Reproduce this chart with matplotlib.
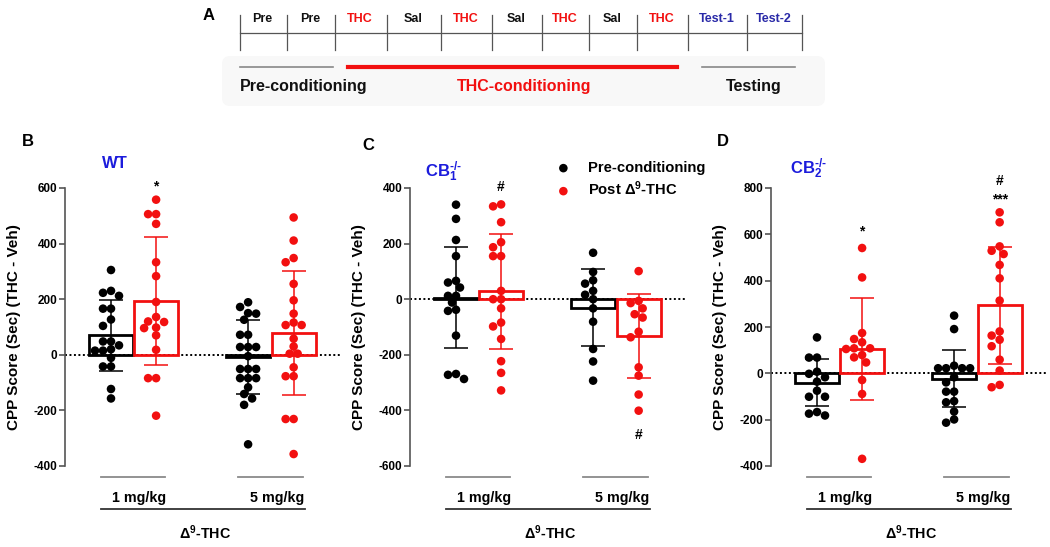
import numpy as np
import matplotlib
matplotlib.use("Agg")
import matplotlib.pyplot as plt
import matplotlib.transforms as mtransforms
from matplotlib.patches import FancyBboxPatch

plt.rcParams['font.family'] = ['Liberation Sans', 'DejaVu Sans']
plt.rcParams['font.weight'] = 'bold'
plt.rcParams['axes.labelweight'] = 'bold'
plt.rcParams['axes.unicode_minus'] = False
plt.rcParams['mathtext.fontset'] = 'custom'
plt.rcParams['mathtext.rm'] = 'Liberation Sans:bold'
plt.rcParams['mathtext.it'] = 'Liberation Sans:bold'
plt.rcParams['mathtext.bf'] = 'Liberation Sans:bold'

# -------------------------------
# DATA
# -------------------------------
# panel A timeline
days = ["Pre", "Pre", "THC", "Sal", "THC", "Sal", "THC", "Sal", "THC", "Test-1", "Test-2"]
day_kind = ["pre", "pre", "thc", "sal", "thc", "sal", "thc", "sal", "thc", "test", "test"]
phases = ["Pre-conditioning", "THC-conditioning", "Testing"]

doses = ["1 mg/kg", "5 mg/kg"]
series = ["Pre-conditioning", "Post Δ$^{9}$-THC"]

# B - WT
B_pre_1 = [305, 230, 223, 212, 166, 166, 127, 104, 48, 48, 34, 20, 15, 15, -11, -42, -42, -123, -157]
B_post_1 = [558, 506, 506, 471, 333, 283, 190, 136, 120, 118, 98, 96, 70, 18, -84, -84, -219]
B_pre_5 = [189, 172, 150, 148, 126, 72, 72, 28, 28, 28, -5, -51, -51, -51, -84, -84, -84, -117, -141, -157, -180, -322]
B_post_5 = [494, 411, 348, 333, 255, 196, 148, 116, 107, 107, 58, 30, 4, 4, -45, -77, -77, -231, -231, -357]
B_means = [70, 193, -8, 78]
B_sds = [128, 229, 134, 222]

# C - CB1-/-
C_pre_1 = [340, 289, 213, 155, 66, 60, 42, 12, 12, -12, -38, -42, -131, -269, -272, -287]
C_post_1 = [341, 334, 277, 205, 187, 155, 155, 30, 0, 0, -33, -84, -98, -143, -223, -265, -328]
C_pre_5 = [167, 98, 68, 56, 30, 16, 0, -33, -81, -179, -224, -293]
C_post_5 = [101, -6, -14, -33, -54, -66, -117, -137, -245, -275, -343, -401]
C_means = [6, 29, -30, -133]
C_sds = [182, 207, 138, 151]

# D - CB2-/-
D_pre_1 = [155, 68, 68, 7, -2, -17, -36, -75, -101, -101, -167, -174, -182]
D_post_1 = [541, 414, 174, 148, 134, 108, 105, 108, 79, 69, 47, -29, -89, -369]
D_pre_5 = [249, 191, 33, 22, 22, 22, 22, -17, -39, -79, -79, -120, -125, -165, -199, -213]
D_post_5 = [695, 652, 548, 529, 515, 468, 410, 314, 181, 163, 145, 117, 59, 12, -50, -60]
D_means = [-41, 104, -23, 293]
D_sds = [101, 220, 122, 254]

RED = '#f21010'
BLUE = '#1c1cdc'
DARKBLUE = '#2a2aa8'

W, H = 1050, 547
fig = plt.figure(figsize=(W / 100, H / 100), dpi=100)

# overlay in pixel coords for panel A and labels
ov = fig.add_axes([0, 0, 1, 1])
ov.set_xlim(0, W)
ov.set_ylim(H, 0)
ov.axis('off')
ov.patch.set_alpha(0)

# -------------------------------
# PANEL A
# -------------------------------
ov.add_patch(FancyBboxPatch((222, 56), 603, 50, boxstyle="round,pad=0,rounding_size=8",
                            facecolor='#f8f8f8', edgecolor='none', zorder=0))
tick_px = [240, 287, 335, 387, 441, 492, 542, 589, 637, 688, 747, 802]
ov.plot([tick_px[0], tick_px[-1]], [33, 33], color='#555555', lw=0.9)
for t in tick_px:
    ov.plot([t, t], [15, 50], color='#555555', lw=0.9)
kind_color = {"pre": '#111111', "sal": '#111111', "thc": RED, "test": DARKBLUE}
for i, (d, k) in enumerate(zip(days, day_kind)):
    ov.text((tick_px[i] + tick_px[i + 1]) / 2 - 1, 19, d, ha='center', va='center',
            fontsize=9, color=kind_color[k])
ov.plot([240, 333], [67, 67], color='#888888', lw=1.2)
ov.plot([348, 677], [67, 67], color=RED, lw=3)
ov.plot([702, 795], [67, 67], color='#888888', lw=1.2)
ov.text(240, 86, phases[0], ha='left', va='center', fontsize=11.5, color='#111111')
ov.text(524, 86, phases[1], ha='center', va='center', fontsize=11.5, color=RED)
ov.text(754, 86, phases[2], ha='center', va='center', fontsize=11.5, color='#111111')
ov.text(209, 15, "A", ha='center', va='center', fontsize=12)


# -------------------------------
# PANELS B-D
# -------------------------------
def swarm_offsets(ax, values, d=8.0):
    x0, x1 = ax.get_xlim()
    y0, y1 = ax.get_ylim()
    sx = ax.bbox.width / (x1 - x0)
    sy = ax.bbox.height / (y1 - y0)
    order = np.argsort(values)[::-1]
    cands = [0.0]
    for k in range(1, 30):
        cands += [-k * d / 2, k * d / 2]
    placed = []
    offs = np.zeros(len(values))
    for i in order:
        y = values[i] * sy
        for c in cands:
            if all((c - px) ** 2 + (y - py) ** 2 >= (d * 0.97) ** 2 for px, py in placed):
                placed.append((c, y))
                offs[i] = c / sx
                break
    return offs


pos = [0.0, 1.0, 3.04, 4.05]
ax_bottom = 1 - 466 / H
ax_height = 278 / H
ax_width = 276 / W


def draw_panel(left_px, groups, means, sds, ylim, yticks):
    ax = fig.add_axes([left_px / W, ax_bottom, ax_width, ax_height])
    ax.set_xlim(-1.02, 5.1)
    ax.set_ylim(*ylim)
    ax.patch.set_alpha(0)
    colors = ['black', RED, 'black', RED]
    ax.bar(pos, means, width=0.97, fill=False, edgecolor=colors, linewidth=2.0, zorder=2)
    for p, vals, c, m, s in zip(pos, groups, colors, means, sds):
        vals = np.array(vals, dtype=float)
        ax.scatter(p + swarm_offsets(ax, vals), vals, s=38, color=c, edgecolor='none', zorder=3)
        ax.errorbar(p, m, yerr=s, fmt='none', ecolor=c, elinewidth=1.1, capsize=8.5,
                    capthick=1.1, zorder=4)
    ax.axhline(0, color='black', ls=(0, (1, 1.3)), lw=1.4, zorder=1)
    for sp in ['top', 'right', 'bottom']:
        ax.spines[sp].set_visible(False)
    ax.spines['left'].set_color('#555555')
    ax.spines['left'].set_linewidth(1.2)
    ax.set_xticks([])
    ax.set_yticks(yticks)
    ax.tick_params(axis='y', length=4, width=1.2, color='#555555', labelsize=8.5, pad=1.5)
    for lbl in ax.get_yticklabels():
        lbl.set_fontweight('bold')
    ax.set_ylabel("CPP Score (Sec) (THC - Veh)", fontsize=11, fontweight='bold')
    ax.yaxis.set_label_coords(-0.158, 0.5)

    tr = mtransforms.blended_transform_factory(ax.transData, ax.transAxes)
    for g in range(2):
        a, b = pos[2 * g], pos[2 * g + 1]
        ax.plot([a - 0.23, b + 0.2], [-0.04, -0.04], transform=tr, color='#8a8a8a',
                lw=1.3, clip_on=False)
        ax.text((a + b) / 2 + 0.13, -0.115, doses[g], transform=tr, ha='center',
                va='center', fontsize=10.3)
    ax.plot([pos[0] - 0.23, pos[3] + 0.25], [-0.155, -0.155], transform=tr,
            color='#333333', lw=1.3, clip_on=False)
    ax.text((pos[0] + pos[3]) / 2 + 0.06, -0.241, "Δ$^{9}$-THC", transform=tr,
            ha='center', va='center', fontsize=10.3)
    return ax


axB = draw_panel(65, [B_pre_1, B_post_1, B_pre_5, B_post_5], B_means, B_sds,
                 (-400, 600), [-400, -200, 0, 200, 400, 600])
axC = draw_panel(410, [C_pre_1, C_post_1, C_pre_5, C_post_5], C_means, C_sds,
                 (-600, 400), [-600, -400, -200, 0, 200, 400])
axD = draw_panel(771, [D_pre_1, D_post_1, D_pre_5, D_post_5], D_means, D_sds,
                 (-400, 800), [-400, -200, 0, 200, 400, 600, 800])

# significance marks
axB.text(1, 606, "*", ha='center', va='center', fontsize=10, clip_on=False)
axC.text(1, 405, "#", ha='center', va='center', fontsize=10, clip_on=False)
axC.text(pos[3], -488, "#", ha='center', va='center', fontsize=10, clip_on=False)
axD.text(1, 612, "*", ha='center', va='center', fontsize=10, clip_on=False)
axD.text(pos[3], 829, "#", ha='center', va='center', fontsize=10, clip_on=False)
axD.text(pos[3], 752, "***", ha='center', va='center', fontsize=10, clip_on=False)

# legend in C
hb = axC.scatter([], [], s=38, color='black', edgecolor='none', label=series[0])
hr = axC.scatter([], [], s=38, color=RED, edgecolor='none', label=series[1])
axC.legend(handles=[hb, hr], loc='upper left', bbox_to_anchor=(556 / W, 1 - 161 / H),
           bbox_transform=fig.transFigure, frameon=False, borderpad=0,
           borderaxespad=0, handlelength=1.0, handletextpad=1.15, labelspacing=0.3,
           prop={'weight': 'bold', 'size': 10.6})

# panel letters and titles
ov.text(28, 142, "B", ha='center', va='center', fontsize=12)
ov.text(368, 145, "C", ha='center', va='center', fontsize=12)
ov.text(723, 142, "D", ha='center', va='center', fontsize=12)
ov.text(115, 163, "WT", ha='center', va='center', fontsize=12, color=BLUE)
ov.text(443, 172, "CB$_{1}^{\\text{-/-}}$", ha='center', va='center', fontsize=12, color=BLUE)
ov.text(808, 169, "CB$_{2}^{\\text{-/-}}$", ha='center', va='center', fontsize=12, color=BLUE)

fig.savefig("out.png", dpi=100)
